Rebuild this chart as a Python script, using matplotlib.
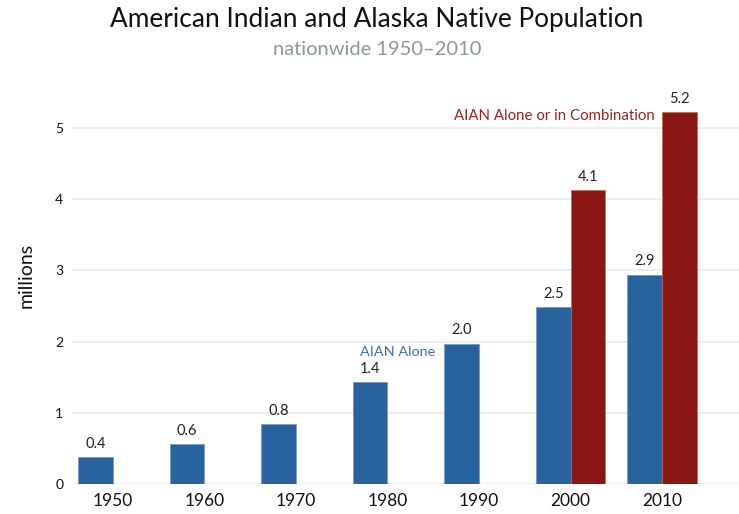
import matplotlib
matplotlib.use('Agg')
import matplotlib.pyplot as plt
import numpy as np

plt.rcParams['font.family'] = ['Lato', 'DejaVu Sans']

# valores (millones)
years = ['1950', '1960', '1970', '1980', '1990', '2000', '2010']
alone = [0.38, 0.56, 0.84, 1.43, 1.97, 2.48, 2.94]
combo_years = ['2000', '2010']
combo = [4.12, 5.22]
alone_labels = ['0.4', '0.6', '0.8', '1.4', '2.0', '2.5', '2.9']
combo_labels = ['4.1', '5.2']

blue = '#28629f'
red = '#8a1611'

fig = plt.figure(figsize=(7.39, 5.14), dpi=100)
ax = fig.add_axes([0.097, 0.058, 0.903, 0.763])

x = np.arange(len(years))
w = 0.38
ax.bar(x - w / 2, alone, width=w, color=blue, edgecolor='#6f95c0', linewidth=0.5, zorder=3)
xc = np.array([years.index(y) for y in combo_years])
ax.bar(xc + w / 2, combo, width=w, color=red, edgecolor='#b86a66', linewidth=0.5, zorder=3)

for xi, v, s in zip(x, alone, alone_labels):
    ax.text(xi - w / 2, v + 0.09, s, ha='center', va='bottom', fontsize=10.5, color='#222222')
for xi, v, s in zip(xc, combo, combo_labels):
    ax.text(xi + w / 2, v + 0.09, s, ha='center', va='bottom', fontsize=10.5, color='#222222')

# etiquetas de series
ax.text(3.52, 1.86, 'AIAN Alone', ha='right', va='center', fontsize=10.4, color='#3b70b0')
ax.text(5.92, 5.22 - 0.06, 'AIAN Alone or in Combination', ha='right', va='center',
        fontsize=10.8, color='#9b2420')

ax.set_xlim(-0.45, 6.84)
ax.set_ylim(0, 5.5)
ax.set_yticks([0, 1, 2, 3, 4, 5])
ax.set_xticks(x)
ax.set_xticklabels(years, fontsize=12.5, color='#111111')
ax.tick_params(axis='y', labelsize=10, colors='#111111', length=0, pad=6)
ax.tick_params(axis='x', length=0, pad=6)
ax.grid(axis='y', color='#e6edf0', linewidth=1.2, zorder=0)
for sp in ax.spines.values():
    sp.set_visible(False)

fig.text(0.036, 0.465, 'millions', rotation=90, ha='center', va='center', fontsize=14, color='#111111')

# Título y subtítulo
fig.text(0.51, 0.962, 'American Indian and Alaska Native Population', ha='center', va='center',
         fontsize=18.9, color='#111111')
fig.text(0.51, 0.904, 'nationwide 1950–2010', ha='center', va='center', fontsize=14.5, color='#8a9a9c')

fig.savefig('out.png', dpi=100)
